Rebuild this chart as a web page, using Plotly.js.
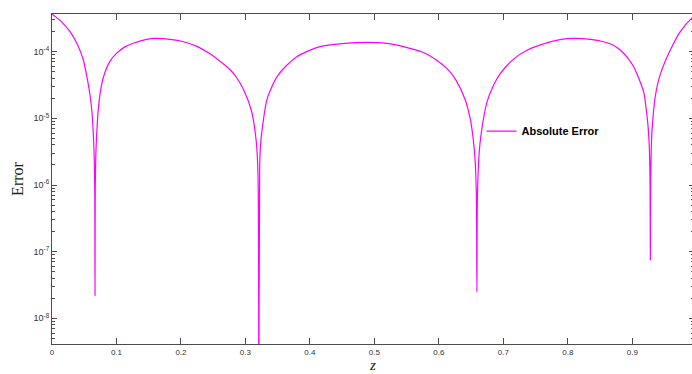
<!DOCTYPE html>
<html>
<head>
<meta charset="utf-8">
<script src="https://cdn.plot.ly/plotly-3.0.1.min.js"></script>
<style>html,body{margin:0;padding:0;background:#fff;overflow:hidden;}#chart{width:694px;height:374px;}</style>
</head>
<body>
<div id="chart"></div>
<script>
const seriesName = "Absolute Error";
const z = [0.000,0.014,0.028,0.040,0.0486,0.055,0.059,0.062,0.0641,0.0655,0.0663,0.0667,0.0671,0.068,0.0694,0.0719,0.075,0.0796,0.090,0.1004,0.113,0.126,0.145,0.1625,0.183,0.204,0.225,0.2456,0.262,0.276,0.2855,0.297,0.3093,0.3166,0.3195,0.3208,0.3221,0.3239,0.3326,0.3383,0.3496,0.3638,0.3797,0.395,0.4159,0.45,0.488,0.52,0.545,0.575,0.597,0.6125,0.6254,0.6409,0.6487,0.6513,0.6545,0.6565,0.6582,0.659,0.6598,0.6625,0.6657,0.6746,0.6852,0.6952,0.715,0.7366,0.77,0.79,0.809,0.835,0.8555,0.8714,0.8814,0.8918,0.902,0.9176,0.9215,0.9245,0.9265,0.9275,0.928,0.9285,0.9295,0.9306,0.9357,0.9435,0.959,0.9745,0.9927,1.0];
const absErr = [3.67e-4,2.85e-4,2.0e-4,1.25e-4,7.5e-5,3.8e-5,2.2e-5,1.25e-5,5.7e-6,2.6e-6,8.8e-7,2.2e-8,8.8e-7,2.9e-6,6e-6,1.4e-5,2.5e-5,4.1e-5,7.2e-5,9.5e-5,1.18e-4,1.34e-4,1.52e-4,1.58e-4,1.53e-4,1.41e-4,1.2e-4,9.2e-5,7.0e-5,5.4e-5,4.2e-5,2.7e-5,1.3e-5,4.7e-6,1.45e-6,1e-10,1.9e-6,4.6e-6,1.8e-5,2.6e-5,4.3e-5,6.2e-5,8.4e-5,1.0e-4,1.19e-4,1.32e-4,1.38e-4,1.33e-4,1.19e-4,9.8e-5,7.4e-5,5.6e-5,3.9e-5,1.9e-5,9.8e-6,6.9e-6,3.8e-6,2.1e-6,6.8e-7,2.5e-8,6.8e-7,3.0e-6,6.0e-6,1.75e-5,3.2e-5,4.7e-5,7.6e-5,1.05e-4,1.38e-4,1.53e-4,1.58e-4,1.53e-4,1.41e-4,1.24e-4,1.06e-4,8.3e-5,6e-5,2.5e-5,1.4e-5,7.5e-6,3.5e-6,1.2e-6,7.5e-8,1.25e-6,3.8e-6,6.6e-6,2.15e-5,4.6e-5,1.06e-4,2e-4,3.2e-4,3.6e-4];
const xTickVals = [0,0.1,0.2,0.3,0.4,0.5,0.6,0.7,0.8,0.9];
const xTickText = ["0","0.1","0.2","0.3","0.4","0.5","0.6","0.7","0.8","0.9"];
const yTickVals = [1e-8,1e-7,1e-6,1e-5,1e-4];
const yTickText = ["10<sup>-8</sup>","10<sup>-7</sup>","10<sup>-6</sup>","10<sup>-5</sup>","10<sup>-4</sup>"];
const yMinorVals = [5e-9,6e-9,7e-9,8e-9,9e-9,2e-8,3e-8,4e-8,5e-8,6e-8,7e-8,8e-8,9e-8,2e-7,3e-7,4e-7,5e-7,6e-7,7e-7,8e-7,9e-7,2e-6,3e-6,4e-6,5e-6,6e-6,7e-6,8e-6,9e-6,2e-5,3e-5,4e-5,5e-5,6e-5,7e-5,8e-5,9e-5,2e-4,3e-4];

const axisColor = '#4d4d4d';
const trace = {
  x: z, y: absErr, type: 'scatter', mode: 'lines', name: seriesName,
  line: {color: '#ff00ff', width: 1.2, shape: 'spline', smoothing: 0.7}
};
const layout = {
  width: 694, height: 374,
  margin: {l: 52, r: 0, t: 14, b: 30},
  paper_bgcolor: '#fff', plot_bgcolor: '#fff',
  showlegend: true,
  legend: {x: 0.669, y: 0.645, xanchor: 'left', yanchor: 'middle', bgcolor: 'rgba(0,0,0,0)',
           font: {family: 'Liberation Sans, Arial, sans-serif', size: 11, color: '#000', weight: 'bold'}},
  xaxis: {
    range: [0, 0.9957], tickvals: xTickVals, ticktext: xTickText,
    ticks: 'inside', ticklen: 6, tickcolor: axisColor, tickwidth: 1,
    showline: true, linecolor: axisColor, linewidth: 1, mirror: 'ticks',
    showgrid: false, zeroline: false,
    tickfont: {family: 'Liberation Sans, Arial, sans-serif', size: 8, color: '#333'},
    title: {text: '<i>z</i>', font: {family: 'Liberation Serif, Times New Roman, serif', size: 15, color: '#222', style: 'italic'}, standoff: 2}
  },
  yaxis: {
    type: 'log', range: [-8.385, -3.435], tickvals: yTickVals, ticktext: yTickText,
    ticks: 'inside', ticklen: 5, tickcolor: axisColor, tickwidth: 1,
    minor: {tickvals: yMinorVals, ticks: 'inside', ticklen: 3, tickcolor: axisColor, showgrid: false},
    showline: true, linecolor: axisColor, linewidth: 1, mirror: 'ticks',
    showgrid: false, zeroline: false,
    tickfont: {family: 'Liberation Sans, Arial, sans-serif', size: 9, color: '#333'},
    title: {text: 'Error', font: {family: 'Liberation Serif, Times New Roman, serif', size: 16, color: '#222'}, standoff: 5}
  }
};
Plotly.newPlot('chart', [trace], layout, {displayModeBar: false, staticPlot: true});
</script>
</body>
</html>
